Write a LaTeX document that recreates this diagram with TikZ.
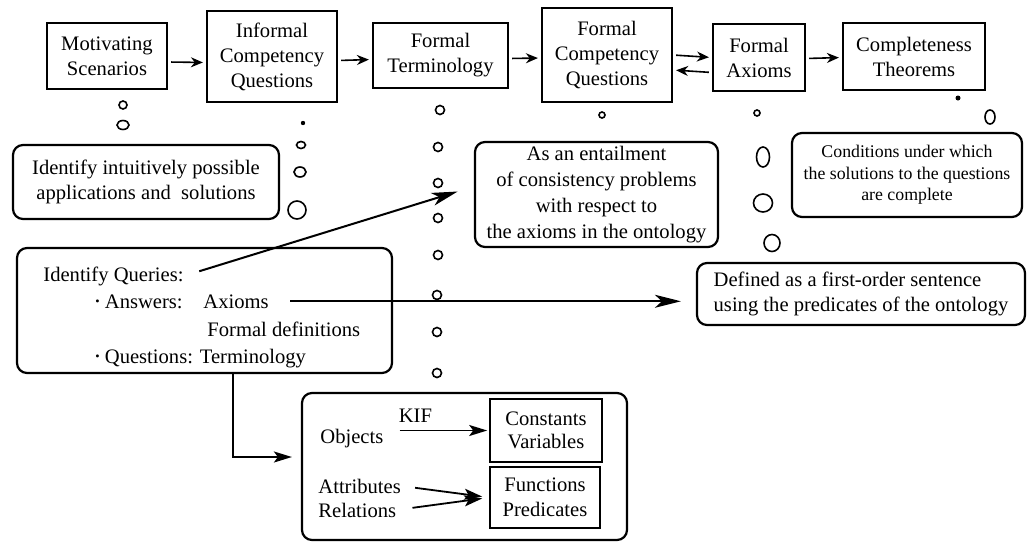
\documentclass[tikz,border=0pt]{standalone}
\usepackage{fontspec}
\setmainfont{Liberation Serif}
\usetikzlibrary{arrows.meta}

\newcommand{\qdot}{\raisebox{0.3ex}{\scalebox{0.6}{\textbullet}}}

\begin{document}
\begin{tikzpicture}[x=0.5pt, y=-0.5pt,
    every node/.style={font=\fontsize{10.3}{12.5}\selectfont},
    stage/.style={draw, line width=1.1pt, align=center, inner sep=1pt},
    note/.style={draw, line width=1.1pt, rounded corners=5pt, align=center, inner sep=1pt},
    txt/.style={inner sep=0pt, anchor=base west},
    flow/.style={-{Stealth[length=6pt,width=5pt]}, line width=0.8pt, shorten <=1.5pt, shorten >=1.5pt},
    link/.style={-{Stealth[length=13pt,width=6.5pt,inset=3.5pt]}, line width=1pt},
    feed/.style={-{Stealth[length=9pt,width=5.5pt,inset=2pt]}, line width=0.9pt},
    ring/.style={line width=0.8pt}]
      \useasboundingbox (0, 0) rectangle (1028, 542);
      % top row of stages
      \node[stage, minimum width=60pt, minimum height=33pt] (ms) at (107, 56) {Motivating\\Scenarios};
      \node[stage, minimum width=65pt, minimum height=45.5pt] (icq) at (272, 56.5) {Informal\\Competency\\Questions};
      \node[stage, minimum width=67.5pt, minimum height=32.5pt] (ft) at (440.5, 55.5) {Formal\\Terminology};
      \node[stage, minimum width=65pt, minimum height=47pt] (fcq) at (607, 55) {Formal\\Competency\\Questions};
      \node[stage, minimum width=46pt, minimum height=33.5pt] (fa) at (759, 57.5) {Formal\\Axioms};
      \node[stage, minimum width=71pt, minimum height=33.5pt] (ct) at (914, 56.5) {Completeness\\Theorems};
      \draw[flow] ([yshift=-3pt]ms.east) -- ([yshift=-3pt]icq.west);
      \draw[flow] ([yshift=-2pt]icq.east) -- ([yshift=-2pt]ft.west);
      \draw[flow] ([yshift=-1.5pt]ft.east) -- ([yshift=-1.5pt]fcq.west);
      \draw[flow] ([yshift=0pt]fcq.east) -- ([yshift=0pt]fa.west);
      \draw[flow] ([yshift=-7.5pt]fa.west) -- ([yshift=-7.5pt]fcq.east);
      \draw[flow] ([yshift=-0.5pt]fa.east) -- ([yshift=-0.5pt]ct.west);
      % notes
      \node[note, minimum width=133pt, minimum height=37pt] (intuit) at (146, 182) {Identify intuitively possible\\applications and\ \ solutions};
      \node[note, minimum width=121.5pt, minimum height=52.5pt, font=\fontsize{10.3}{13}\selectfont] (entail) at (596.5, 194.5) {As an entailment\\of consistency problems\\with respect to\\the axioms in the ontology};
      \node[note, minimum width=115pt, minimum height=42pt, font=\fontsize{8.9}{10.8}\selectfont] (cond) at (907, 175) {Conditions under which\\the solutions to the questions\\are complete};
      \node[note, minimum width=164pt, minimum height=31pt, align=left] (defined) at (861, 294) {Defined as a first-order sentence\\using the predicates of the ontology};
      \node[note, minimum width=187.5pt, minimum height=62.5pt] (queries) at (204.5, 310.5) {};
      \node[txt] (qhead) at (43, 281) {Identify Queries:};
      \node[txt] (qans) at (95, 308) {\qdot\ Answers:};
      \node[txt] (axioms) at (203, 308) {Axioms};
      \node[txt] (qdefs) at (207, 336) {Formal definitions};
      \node[txt] (qquest) at (95, 363) {\qdot\ Questions: Terminology};
      \draw[link, shorten <=8pt, shorten >=8.5pt] (qhead.east) -- ([yshift=4pt]entail.west);
      \draw[link, shorten <=10.5pt, shorten >=7.5pt] (axioms.east) -- (axioms.east -| defined.west);
      % terminology box
      \node[note, minimum width=162.5pt, minimum height=73.5pt] (lang) at (464.5, 466.5) {};
      \node[stage, line width=0.8pt, minimum width=56pt, minimum height=31.5pt, font=\fontsize{10.3}{11.5}\selectfont] (constvar) at (546, 430.5) {Constants\\Variables};
      \node[stage, line width=0.8pt, minimum width=55pt, minimum height=30.5pt] (funcpred) at (545, 497.5) {Functions\\Predicates};
      \node[txt] (objects) at (320, 443) {Objects};
      \node[txt] (attrs) at (318, 493) {Attributes};
      \node[txt] (rels) at (318, 517) {Relations};
      \draw[feed, shorten <=8pt, shorten >=1pt] (objects.east |- constvar.west) -- node[above, pos=0.3] (kif) {KIF} (constvar.west);
      \draw[feed, shorten <=7pt, shorten >=3.5pt] (attrs.east) -- (funcpred.west);
      \draw[feed, shorten <=8pt, shorten >=3.5pt] (rels.east) -- (funcpred.west);
      \draw[feed, shorten >=4.5pt] ([xshift=14.25pt]queries.south) |- ([yshift=4.75pt]lang.west);
      % dotted trails of circles
      \foreach \cx/\cy/\rx/\ry in {123/105/4/4, 123/125/6/4.5, 301/145/4.5/3.5, 300/172/6/5, 297/210/9/9,
          440/110/4.5/4.5, 438/147/4.5/4.5, 438/183/4.5/4.5, 438/218/4.5/4.5, 438/255/4.5/4.5,
          437/295/4.5/4.5, 437/332/4.5/4.5, 437/373/4.5/4.5,
          602/115/3/3, 757/113/3/3, 763/157/6.5/10, 763/203/9.5/9, 772/243/8/8.5, 990/117/5/7}
        \draw[ring] (\cx, \cy) ellipse[x radius=\rx, y radius=\ry];
      \fill (303, 123) circle[radius=2.2];
      \fill (958, 98) circle[radius=2.5];
\end{tikzpicture}
\end{document}
